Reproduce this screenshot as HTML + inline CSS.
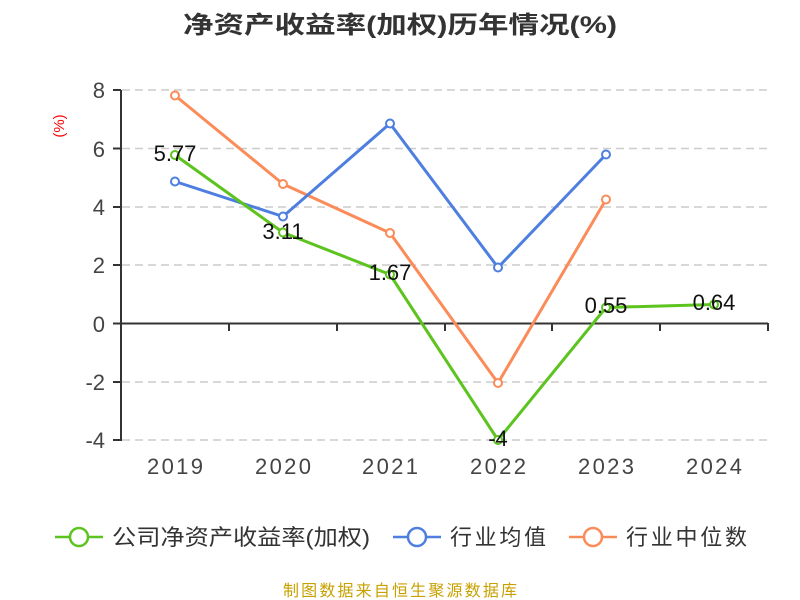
<!DOCTYPE html>
<html><head><meta charset="utf-8"><style>
body{margin:0;background:#fff;}
svg{display:block;font-family:"Liberation Sans","Noto Sans CJK SC",sans-serif;}
</style></head><body>
<svg width="800" height="600" viewBox="0 0 800 600">
<text x="183" y="33" font-size="24" font-weight="bold" fill="#333" textLength="434" lengthAdjust="spacingAndGlyphs">净资产收益率(加权)历年情况(%)</text>
<text transform="translate(64,126) rotate(-90)" text-anchor="middle" font-size="15" fill="#f00">(%)</text>
<g stroke="#ccc" stroke-dasharray="8,5" stroke-width="1.5">
<line x1="122" y1="90" x2="768" y2="90"/><line x1="122" y1="148.5" x2="768" y2="148.5"/>
<line x1="122" y1="207" x2="768" y2="207"/><line x1="122" y1="265" x2="768" y2="265"/>
<line x1="122" y1="382" x2="768" y2="382"/><line x1="122" y1="440" x2="768" y2="440"/>
</g>
<g stroke="#333" stroke-width="2">
<line x1="121" y1="90" x2="121" y2="441"/>
<line x1="121" y1="323.5" x2="768" y2="323.5"/>
<line x1="113" y1="90" x2="121" y2="90"/><line x1="113" y1="148.5" x2="121" y2="148.5"/>
<line x1="113" y1="207" x2="121" y2="207"/><line x1="113" y1="265" x2="121" y2="265"/>
<line x1="113" y1="323.5" x2="121" y2="323.5"/><line x1="113" y1="382" x2="121" y2="382"/>
<line x1="113" y1="440" x2="121" y2="440"/>
<line x1="229" y1="323" x2="229" y2="331"/><line x1="337" y1="323" x2="337" y2="331"/>
<line x1="445" y1="323" x2="445" y2="331"/><line x1="552" y1="323" x2="552" y2="331"/>
<line x1="660" y1="323" x2="660" y2="331"/><line x1="768" y1="323" x2="768" y2="331"/>
</g>
<g font-size="22" fill="#444" text-anchor="end">
<text x="105" y="98">8</text><text x="105" y="157">6</text><text x="105" y="215">4</text>
<text x="105" y="273">2</text><text x="105" y="332">0</text><text x="105" y="390">-2</text><text x="105" y="448">-4</text>
</g>
<g font-size="22" fill="#444" text-anchor="middle">
<text x="175" y="474" textLength="56">2019</text><text x="283" y="474" textLength="56">2020</text><text x="390" y="474" textLength="56">2021</text>
<text x="498" y="474" textLength="56">2022</text><text x="606" y="474" textLength="56">2023</text><text x="714" y="474" textLength="56">2024</text>
</g>
<g fill="none" stroke-width="3" stroke-linejoin="round">
<polyline stroke="#fb8c5a" points="175,95.5 283,184 390,233 498,383 606,199.5"/>
<polyline stroke="#4e7fe0" points="175,181.5 283,216.5 390,123.5 498,267.5 606,154.5"/>
<polyline stroke="#5cc31f" points="175,155 283,232.5 390,274.5 498,440 606,307.5 714,304.5"/>
</g>
<g fill="#fff" stroke-width="2">
<g stroke="#fb8c5a"><circle cx="175" cy="95.5" r="4"/><circle cx="283" cy="184" r="4"/><circle cx="390" cy="233" r="4"/><circle cx="498" cy="383" r="4"/><circle cx="606" cy="199.5" r="4"/></g>
<g stroke="#4e7fe0"><circle cx="175" cy="181.5" r="4"/><circle cx="283" cy="216.5" r="4"/><circle cx="390" cy="123.5" r="4"/><circle cx="498" cy="267.5" r="4"/><circle cx="606" cy="154.5" r="4"/></g>
<g stroke="#5cc31f"><circle cx="175" cy="155" r="4"/><circle cx="283" cy="232.5" r="4"/><circle cx="390" cy="274.5" r="4"/><circle cx="498" cy="440" r="4"/><circle cx="606" cy="307.5" r="4"/><circle cx="714" cy="304.5" r="4"/></g>
</g>
<g font-size="22" fill="#111" text-anchor="middle">
<text x="175" y="161">5.77</text><text x="283" y="239">3.11</text><text x="390" y="280">1.67</text>
<text x="498" y="446">-4</text><text x="606" y="313">0.55</text><text x="714" y="310">0.64</text>
</g>
<g stroke-width="2.5" fill="#fff">
<line x1="55" y1="537" x2="103" y2="537" stroke="#5cc31f"/><circle cx="79" cy="537" r="9" stroke="#5cc31f"/>
<line x1="393" y1="537" x2="441" y2="537" stroke="#4e7fe0"/><circle cx="417" cy="537" r="9" stroke="#4e7fe0"/>
<line x1="569" y1="537" x2="617" y2="537" stroke="#fb8c5a"/><circle cx="593" cy="537" r="9" stroke="#fb8c5a"/>
</g>
<g font-size="22" fill="#333">
<text x="112" y="545" textLength="258" lengthAdjust="spacingAndGlyphs">公司净资产收益率(加权)</text><text x="450" y="545" textLength="96">行业均值</text><text x="626" y="545" textLength="121">行业中位数</text>
</g>
<text x="283" y="596" font-size="16" fill="#c8a000" textLength="234">制图数据来自恒生聚源数据库</text>
</svg>
</body></html>
